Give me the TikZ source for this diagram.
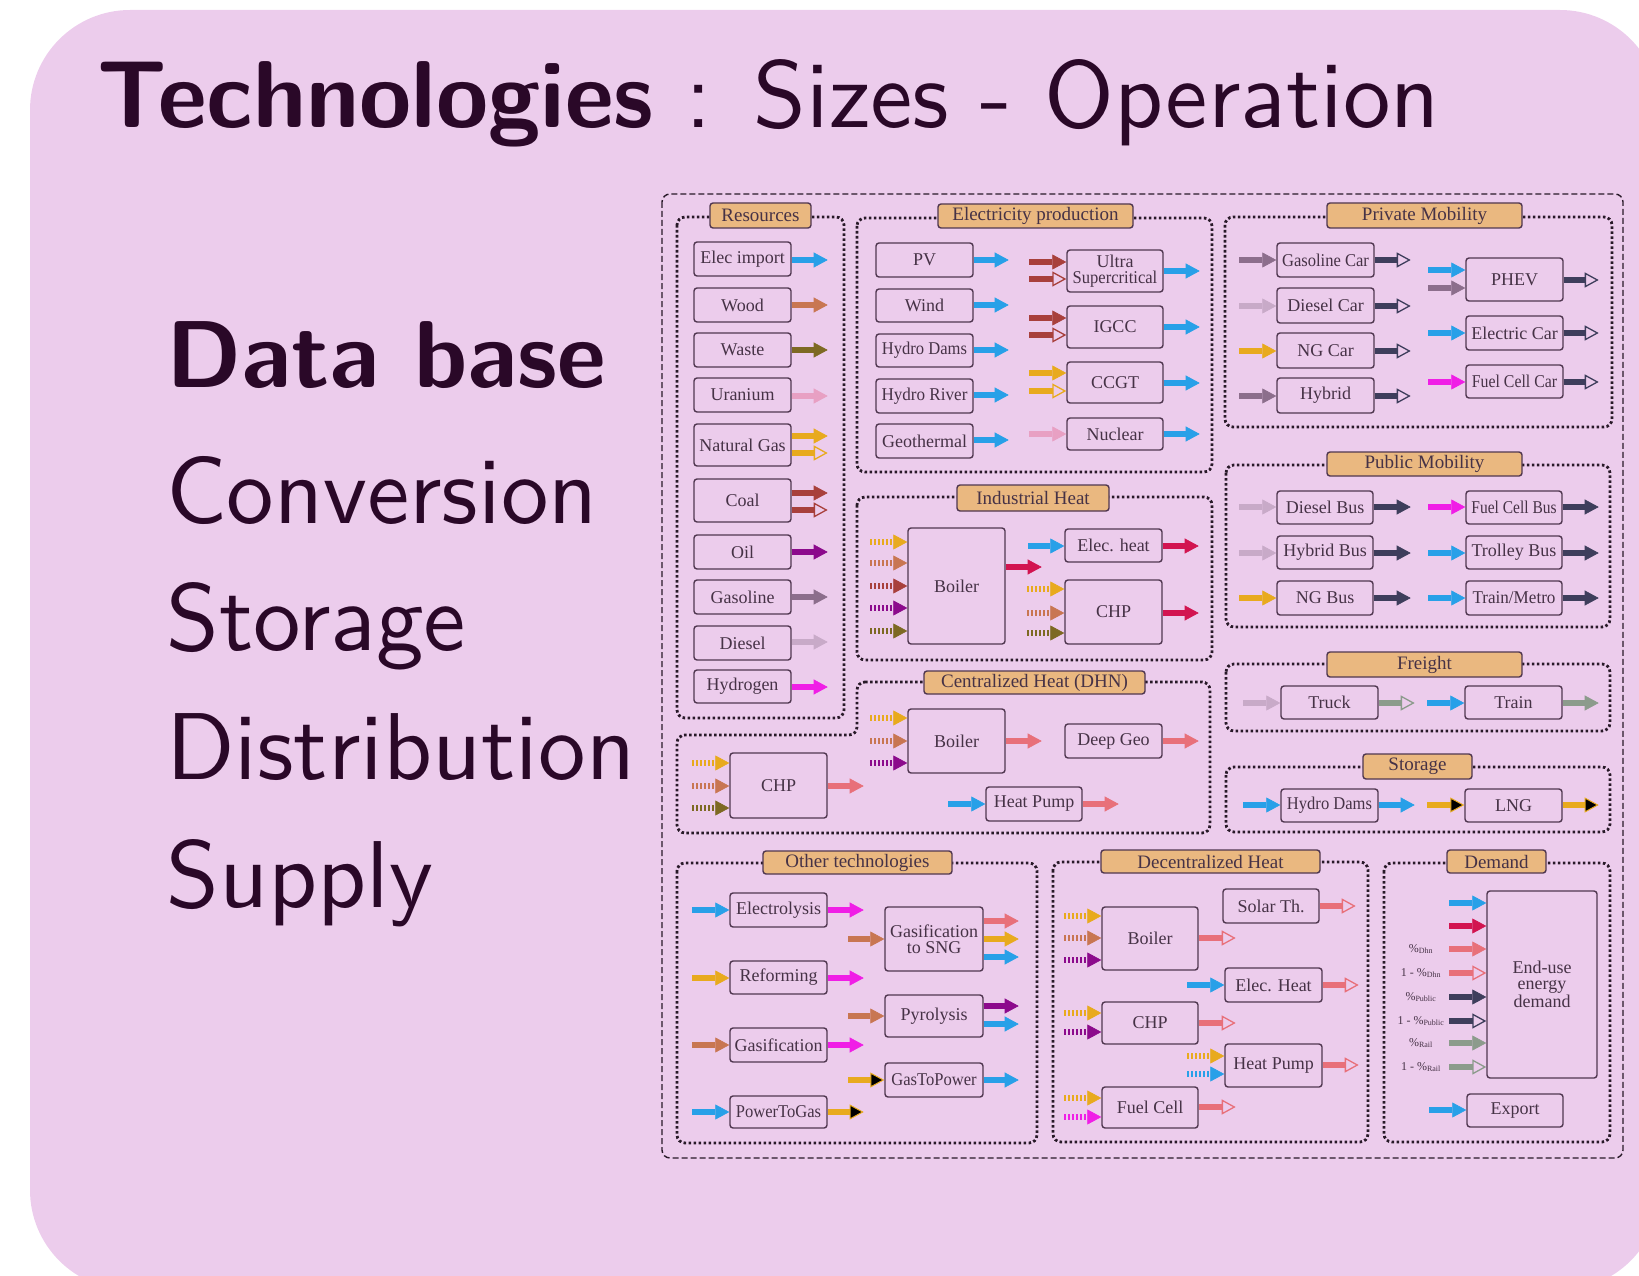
\documentclass[tikz,border=0pt]{standalone}
\usepackage{fontspec}
\setmainfont{Liberation Serif}
\newfontfamily\tsans{lmsans10-regular}[Extension=.otf, BoldFont=lmsans10-bold]
\usepackage{graphicx}
\usetikzlibrary{arrows.meta,calc}
\definecolor{bgc}{RGB}{236,204,236}
\definecolor{ttl}{RGB}{42,8,40}
\definecolor{ntext}{RGB}{70,50,70}
\definecolor{nbord}{RGB}{80,55,80}
\definecolor{frm}{RGB}{40,25,40}
\definecolor{lblf}{RGB}{234,184,128}
\definecolor{cblue}{RGB}{40,160,232}
\definecolor{cwood}{RGB}{200,118,82}
\definecolor{cwaste}{RGB}{125,105,35}
\definecolor{curan}{RGB}{232,160,195}
\definecolor{cng}{RGB}{232,170,30}
\definecolor{ccoal}{RGB}{168,64,60}
\definecolor{coil}{RGB}{140,10,140}
\definecolor{cgasl}{RGB}{140,110,140}
\definecolor{cdsl}{RGB}{200,170,200}
\definecolor{chyd}{RGB}{240,30,230}
\definecolor{chot}{RGB}{210,20,80}
\definecolor{cwarm}{RGB}{232,112,122}
\definecolor{cmob}{RGB}{62,62,92}
\definecolor{cfr}{RGB}{140,155,140}
\newcommand\nf{\fontsize{18}{16}\selectfont}
\newcommand\lf{\fontsize{19}{19}\selectfont}
\newcommand\sq[2]{\scalebox{#1}[1]{#2}}
\newcommand\nd[6]{\node[box, minimum width={#4-#2}, minimum height={#5-#3}] (#1) at ({(#2+#4)/2},{(#3+#5)/2}) {#6};}
\newcommand\lb[6]{\node[lbl, minimum width={#4-#2}, minimum height={#5-#3}] (#1) at ({(#2+#4)/2},{(#3+#5)/2}) {#6};}
\newcommand\inA[4]{\coordinate (#2-i#3) at ($(#2.west|-0,#3)+(-#4,0)$); \draw[#1] (#2-i#3) -- (#2.west|-0,#3);}
\newcommand\outA[4]{\coordinate (#2-o#3) at ($(#2.east|-0,#3)+(#4,0)$); \draw[#1] (#2.east|-0,#3) -- (#2-o#3);}
\tikzset{
  box/.style={draw=nbord, line width=1.4pt, rounded corners=3pt, text=ntext, font=\nf, inner sep=1pt, align=center},
  lbl/.style={draw=nbord, fill=lblf, line width=1.4pt, rounded corners=3pt, text=ntext, font=\lf, inner sep=0pt},
  frame/.style={draw=frm, line width=2.8pt, dash pattern=on 2.6pt off 2.4pt, rounded corners=8pt},
  outer/.style={draw=frm, line width=1.4pt, dash pattern=on 6pt off 3pt, rounded corners=8pt},
  af/.style={line width=6pt, draw=#1, -{Triangle[length=14pt,width=15pt,line width=0.6pt]}},
  ao/.style={line width=6pt, draw=#1, -{Triangle[open,length=14pt,width=15pt,line width=1.3pt]}},
  ab/.style={line width=6pt, draw=#1, -{Triangle[fill=black,length=14pt,width=15pt,line width=1pt]}},
  ad/.style={line width=5.5pt, draw=#1, dash pattern=on 2pt off 2pt, -{Triangle[length=14pt,width=15pt,line width=0.6pt]}},
  big/.style={anchor=base west, inner sep=0pt, text=ttl, font=\tsans\fontsize{95}{100}\selectfont},
  dl/.style={text=ntext, inner sep=0pt, font=\fontsize{12}{12}\selectfont}
}
\begin{document}
\begin{tikzpicture}[x=1pt,y=-1pt]
\useasboundingbox (0,0) rectangle (1639,1276);
\fill[bgc, rounded corners=100pt] (30,10) rectangle (1660,1290);
% title and list
\node[big] (title) at (97,128) {\textbf{Technologies} : Sizes - Operation};
\node[big] (l1) at (166,387) {\textbf{Data base}};
\node[big] (l2) at (166,523) {Conversion};
\node[big] (l3) at (166,650) {Storage};
\node[big] (l4) at (166,779) {Distribution};
\node[big] (l5) at (166,907) {Supply};
% frames
\draw[outer] (662,194) rectangle (1623,1158);
\draw[frame] (677,217) rectangle (844,718);
\draw[frame] (857,218) rectangle (1212,472);
\draw[frame] (1225,217) rectangle (1612,427);
\draw[frame] (857,497) rectangle (1212,660);
\draw[frame] (857,682) -- (1210,682) -- (1210,833) -- (677,833) -- (677,735) -- (857,735) -- cycle;
\draw[frame] (1226,465) rectangle (1610,627);
\draw[frame] (1226,664) rectangle (1610,731);
\draw[frame] (1226,767) rectangle (1610,832);
\draw[frame] (677,863) rectangle (1037,1143);
\draw[frame] (1053,862) rectangle (1368,1142);
\draw[frame] (1384,863) rectangle (1610,1142);
% labels
\lb{lres}{710}{203}{811}{228}{Resources}
\lb{lelp}{938}{204}{1133}{228}{Electricity production}
\lb{lpm}{1327}{203}{1522}{228}{Private Mobility}
\lb{lih}{957}{485}{1109}{511}{Industrial Heat}
\lb{ldhn}{924}{671}{1145}{694}{Centralized Heat (DHN)}
\lb{lpub}{1327}{452}{1522}{476}{Public Mobility}
\lb{lfr}{1327}{652}{1522}{677}{Freight}
\lb{lsto}{1363}{754}{1472}{779}{Storage}
\lb{loth}{763}{851}{952}{874}{Other technologies}
\lb{ldec}{1101}{850}{1320}{873}{Decentralized Heat}
\lb{ldem}{1447}{850}{1546}{873}{Demand}
% Resources
\nd{elec}{694}{242}{791}{276}{Elec import}
\nd{wood}{694}{288}{791}{322}{Wood}
\nd{waste}{694}{333}{791}{367}{Waste}
\nd{uran}{694}{378}{791}{412}{Uranium}
\nd{ng}{694}{424}{791}{466}{Natural Gas}
\nd{coal}{694}{479}{791}{522}{Coal}
\nd{oil}{694}{535}{791}{569}{Oil}
\nd{gasl}{694}{580}{791}{614}{Gasoline}
\nd{dsl}{694}{626}{791}{660}{Diesel}
\nd{hyd}{694}{670}{791}{703}{Hydrogen}
\outA{af=cblue}{elec}{260}{36}
\outA{af=cwood}{wood}{305}{36}
\outA{af=cwaste}{waste}{350}{36}
\outA{af=curan}{uran}{396}{36}
\outA{af=cng}{ng}{436}{36}
\outA{ao=cng}{ng}{453}{36}
\outA{af=ccoal}{coal}{493}{36}
\outA{ao=ccoal}{coal}{510}{36}
\outA{af=coil}{oil}{552}{36}
\outA{af=cgasl}{gasl}{597}{36}
\outA{af=cdsl}{dsl}{642}{36}
\outA{af=chyd}{hyd}{687}{36}
% Electricity production
\nd{pv}{876}{243}{973}{277}{PV}
\nd{wind}{876}{289}{973}{322}{Wind}
\nd{hdam}{876}{334}{973}{367}{\sq{0.92}{Hydro Dams}}
\nd{hriv}{876}{379}{973}{413}{\sq{0.95}{Hydro River}}
\nd{geo}{876}{424}{973}{458}{Geothermal}
\outA{af=cblue}{pv}{260}{35}
\outA{af=cblue}{wind}{305}{35}
\outA{af=cblue}{hdam}{350}{35}
\outA{af=cblue}{hriv}{395}{35}
\outA{af=cblue}{geo}{440}{35}
\nd{usc}{1067}{250}{1163}{292}{Ultra\\\sq{0.92}{Supercritical}}
\nd{igcc}{1067}{306}{1163}{348}{IGCC}
\nd{ccgt}{1067}{362}{1163}{403}{CCGT}
\nd{nuc}{1067}{418}{1163}{450}{Nuclear}
\inA{af=ccoal}{usc}{262}{37}
\inA{ao=ccoal}{usc}{279}{37}
\inA{af=ccoal}{igcc}{318}{37}
\inA{ao=ccoal}{igcc}{335}{37}
\inA{af=cng}{ccgt}{373}{37}
\inA{ao=cng}{ccgt}{391}{37}
\inA{af=curan}{nuc}{434}{37}
\outA{af=cblue}{usc}{271}{36}
\outA{af=cblue}{igcc}{327}{36}
\outA{af=cblue}{ccgt}{383}{36}
\outA{af=cblue}{nuc}{434}{36}
% Private mobility
\nd{gcar}{1277}{243}{1374}{277}{\sq{0.92}{Gasoline Car}}
\nd{dcar}{1277}{288}{1374}{323}{Diesel Car}
\nd{ngcar}{1277}{333}{1374}{368}{NG Car}
\nd{hcar}{1277}{378}{1374}{413}{Hybrid}
\inA{af=cgasl}{gcar}{260}{37}
\inA{af=cdsl}{dcar}{306}{37}
\inA{af=cng}{ngcar}{351}{37}
\inA{af=cgasl}{hcar}{396}{37}
\outA{ao=cmob}{gcar}{260}{36}
\outA{ao=cmob}{dcar}{306}{36}
\outA{ao=cmob}{ngcar}{351}{36}
\outA{ao=cmob}{hcar}{396}{36}
\nd{phev}{1466}{258}{1563}{301}{PHEV}
\nd{ecar}{1466}{316}{1563}{350}{Electric Car}
\nd{fccar}{1466}{365}{1563}{398}{\sq{0.88}{Fuel Cell Car}}
\inA{af=cblue}{phev}{270}{37}
\inA{af=cgasl}{phev}{288}{37}
\inA{af=cblue}{ecar}{333}{37}
\inA{af=chyd}{fccar}{382}{37}
\outA{ao=cmob}{phev}{280}{35}
\outA{ao=cmob}{ecar}{333}{35}
\outA{ao=cmob}{fccar}{382}{35}
% Industrial heat
\nd{ibo}{908}{528}{1005}{644}{Boiler}
\inA{ad=cng}{ibo}{542}{37}
\inA{ad=cwood}{ibo}{563}{37}
\inA{ad=ccoal}{ibo}{586}{37}
\inA{ad=coil}{ibo}{608}{37}
\inA{ad=cwaste}{ibo}{631}{37}
\outA{af=chot}{ibo}{567}{36}
\nd{iel}{1065}{529}{1162}{562}{Elec. heat}
\inA{af=cblue}{iel}{546}{36}
\outA{af=chot}{iel}{546}{36}
\nd{ichp}{1065}{580}{1162}{644}{CHP}
\inA{ad=cng}{ichp}{589}{37}
\inA{ad=cwood}{ichp}{613}{37}
\inA{ad=cwaste}{ichp}{633}{37}
\outA{af=chot}{ichp}{613}{36}
% Centralized heat
\nd{dbo}{908}{709}{1005}{773}{Boiler}
\inA{ad=cng}{dbo}{718}{37}
\inA{ad=cwood}{dbo}{741}{37}
\inA{ad=coil}{dbo}{763}{37}
\outA{af=cwarm}{dbo}{741}{36}
\nd{dgeo}{1065}{724}{1162}{758}{Deep Geo}
\outA{af=cwarm}{dgeo}{741}{36}
\nd{dhp}{986}{787}{1082}{821}{Heat Pump}
\inA{af=cblue}{dhp}{804}{37}
\outA{af=cwarm}{dhp}{804}{36}
\nd{dchp}{730}{753}{827}{818}{CHP}
\inA{ad=cng}{dchp}{763}{37}
\inA{ad=cwood}{dchp}{786}{37}
\inA{ad=cwaste}{dchp}{808}{37}
\outA{af=cwarm}{dchp}{786}{36}
% Public mobility
\nd{dbus}{1277}{491}{1373}{524}{Diesel Bus}
\nd{hbus}{1277}{536}{1373}{569}{Hybrid Bus}
\nd{ngbus}{1277}{581}{1373}{615}{NG Bus}
\inA{af=cdsl}{dbus}{507}{37}
\inA{af=cdsl}{hbus}{553}{37}
\inA{af=cng}{ngbus}{598}{37}
\outA{af=cmob}{dbus}{507}{37}
\outA{af=cmob}{hbus}{553}{37}
\outA{af=cmob}{ngbus}{598}{37}
\nd{fcbus}{1466}{491}{1562}{524}{\sq{0.86}{Fuel Cell Bus}}
\nd{tbus}{1466}{536}{1562}{569}{Trolley Bus}
\nd{metro}{1466}{581}{1562}{615}{\sq{0.95}{Train/Metro}}
\inA{af=chyd}{fcbus}{507}{37}
\inA{af=cblue}{tbus}{553}{37}
\inA{af=cblue}{metro}{598}{37}
\outA{af=cmob}{fcbus}{507}{36}
\outA{af=cmob}{tbus}{553}{36}
\outA{af=cmob}{metro}{598}{36}
% Freight
\nd{truck}{1281}{686}{1378}{719}{Truck}
\nd{train}{1465}{686}{1562}{719}{Train}
\inA{af=cdsl}{truck}{703}{37}
\outA{ao=cfr}{truck}{703}{36}
\inA{af=cblue}{train}{703}{37}
\outA{af=cfr}{train}{703}{36}
% Storage
\nd{sdam}{1281}{789}{1378}{822}{\sq{0.92}{Hydro Dams}}
\nd{lng}{1465}{789}{1562}{822}{LNG}
\inA{af=cblue}{sdam}{805}{37}
\outA{af=cblue}{sdam}{805}{36}
\inA{ab=cng}{lng}{805}{37}
\outA{ab=cng}{lng}{805}{36}
% Other technologies
\nd{elys}{730}{893}{827}{927}{Electrolysis}
\nd{refo}{730}{961}{827}{994}{Reforming}
\nd{gasi}{730}{1028}{827}{1062}{Gasification}
\nd{ptg}{730}{1096}{827}{1128}{\sq{0.92}{PowerToGas}}
\inA{af=cblue}{elys}{910}{37}
\outA{af=chyd}{elys}{910}{36}
\inA{af=cng}{refo}{978}{37}
\outA{af=chyd}{refo}{978}{36}
\inA{af=cwood}{gasi}{1045}{37}
\outA{af=chyd}{gasi}{1045}{36}
\inA{af=cblue}{ptg}{1112}{37}
\outA{ab=cng}{ptg}{1112}{36}
\nd{sng}{885}{907}{983}{971}{Gasification\\to SNG}
\nd{pyro}{885}{995}{983}{1037}{Pyrolysis}
\nd{gtp}{885}{1063}{983}{1097}{\sq{0.92}{GasToPower}}
\inA{af=cwood}{sng}{939}{36}
\outA{af=cwarm}{sng}{921}{35}
\outA{af=cng}{sng}{939}{35}
\outA{af=cblue}{sng}{957}{35}
\inA{af=cwood}{pyro}{1016}{36}
\outA{af=coil}{pyro}{1006}{35}
\outA{af=cblue}{pyro}{1024}{35}
\inA{ab=cng}{gtp}{1080}{36}
\outA{af=cblue}{gtp}{1080}{35}
% Decentralized heat
\nd{dcbo}{1102}{907}{1198}{970}{Boiler}
\inA{ad=cng}{dcbo}{916}{37}
\inA{ad=cwood}{dcbo}{938}{37}
\inA{ad=coil}{dcbo}{960}{37}
\outA{ao=cwarm}{dcbo}{938}{37}
\nd{solar}{1223}{889}{1319}{923}{Solar Th.}
\outA{ao=cwarm}{solar}{906}{36}
\nd{dcel}{1225}{968}{1322}{1002}{Elec. Heat}
\inA{af=cblue}{dcel}{985}{37}
\outA{ao=cwarm}{dcel}{985}{36}
\nd{dcchp}{1102}{1002}{1198}{1044}{CHP}
\inA{ad=cng}{dcchp}{1013}{37}
\inA{ad=coil}{dcchp}{1032}{37}
\outA{ao=cwarm}{dcchp}{1023}{37}
\nd{dchpump}{1225}{1044}{1322}{1087}{Heat Pump}
\inA{ad=cng}{dchpump}{1056}{37}
\inA{ad=cblue}{dchpump}{1074}{37}
\outA{ao=cwarm}{dchpump}{1065}{36}
\nd{fcell}{1102}{1087}{1198}{1128}{Fuel Cell}
\inA{ad=cng}{fcell}{1098}{37}
\inA{ad=chyd}{fcell}{1117}{37}
\outA{ao=cwarm}{fcell}{1107}{37}
% Demand
\nd{eud}{1487}{891}{1597}{1078}{End-use\\energy\\demand}
\inA{af=cblue}{eud}{903}{37}
\inA{af=chot}{eud}{926}{37}
\inA{af=cwarm}{eud}{949}{37}
\inA{ao=cwarm}{eud}{973}{37}
\inA{af=cmob}{eud}{997}{37}
\inA{ao=cmob}{eud}{1021}{37}
\inA{af=cfr}{eud}{1043}{37}
\inA{ao=cfr}{eud}{1067}{37}
\node[dl] (p1) at (1421,949) {\%\textsubscript{Dhn}};
\node[dl] (p2) at (1421,973) {1 - \%\textsubscript{Dhn}};
\node[dl] (p3) at (1421,997) {\%\textsubscript{Public}};
\node[dl] (p4) at (1421,1021) {1 - \%\textsubscript{Public}};
\node[dl] (p5) at (1421,1043) {\%\textsubscript{Rail}};
\node[dl] (p6) at (1421,1067) {1 - \%\textsubscript{Rail}};
\nd{export}{1467}{1094}{1563}{1127}{Export}
\inA{af=cblue}{export}{1110}{37}
\end{tikzpicture}
\end{document}
